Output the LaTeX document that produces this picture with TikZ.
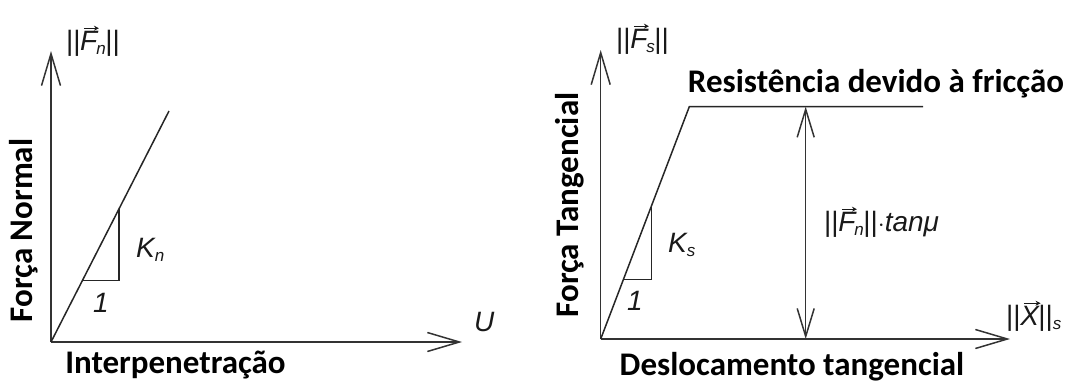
\documentclass[tikz,border=0pt]{standalone}
\usepackage{fontspec}
\setmainfont{Liberation Sans}
\newfontfamily\calib{Carlito}
\usetikzlibrary{arrows.meta,calc}
\newcommand\vecit[1]{\begingroup\setbox0=\hbox{\itshape #1}%
  \makebox[0pt][l]{\raisebox{\dimexpr\ht0+2.5pt\relax}{\kern3pt\tikz[x=1pt,y=1pt,baseline=0pt]\draw[line width=1.2pt,-{Stealth[length=5pt,width=5pt]}] (0,0) -- (\wd0-2pt,0);}}%
  \box0\endgroup}
\newcommand\subit[1]{\raisebox{-4.5pt}{\fontsize{17}{17}\selectfont\itshape #1}}
\begin{document}
\begin{tikzpicture}[x=1pt,y=-1pt,
  barb/.tip={Straight Barb[length=32pt,width=19pt,line width=1.5pt]},
  ax/.style={line width=1.5pt, draw=black!80, -barb},
  dbl/.style={line width=1.5pt, draw=black!80, {Straight Barb[length=28pt,width=17pt,line width=1.5pt]}-{Straight Barb[length=28pt,width=17pt,line width=1.5pt]}},
  curve/.style={line width=1.5pt, draw=black!85, line join=miter},
  tri/.style={line width=1.4pt, draw=black!85},
  lbl/.style={font=\calib\bfseries\fontsize{33}{33}\selectfont, inner sep=0pt, text=black},
  sym/.style={font=\fontsize{28}{28}\selectfont, inner sep=0pt, text=black!90}]
\useasboundingbox (0,0) rectangle (1075,383);

% ---------- left plot ----------
\coordinate (O1) at (51,342);
\coordinate (Y1) at (51,51);
\coordinate (X1) at (462,342);
\coordinate (L1) at (169,111);
\coordinate (A1) at ($(O1)!0.265!(L1)$);
\coordinate (B1) at ($(O1)!0.576!(L1)$);
\coordinate (C1) at (B1 |- A1);

\draw[ax] (O1) -- (Y1);
\draw[ax] (O1) -- (X1);
\draw[curve] (O1) -- (L1);
\draw[tri] (A1) -- (C1) -- (B1);

\node[sym, anchor=base west] (fn) at (66,50) {||\kern-0.5pt\vecit{F}\kern-1pt\subit{n}\kern-0.5pt||};
\node[sym, anchor=base west] (kn) at (136,257) {\itshape K\subit{n}};
\node[sym, anchor=base] (one1) at (101,312) {\itshape 1};
\node[sym, anchor=base west] (u) at (474,331) {\itshape U};
\node[lbl, anchor=base, rotate=90] (fnorm) at (32.5,230.5) {Força Normal};
\node[lbl, anchor=base] (interp) at (175.5,373) {Interpenetração};

% ---------- right plot ----------
\coordinate (O2) at (600.7,339);
\coordinate (Y2) at (600.7,50);
\coordinate (X2) at (1010,339);
\coordinate (P2) at (689.3,106.7);
\coordinate (E2) at (923,106.7);
\coordinate (A2) at ($(O2)!0.255!(P2)$);
\coordinate (B2) at ($(O2)!0.576!(P2)$);
\coordinate (C2) at (B2 |- A2);
\coordinate (D1) at (805.7,106.7);
\coordinate (D2) at (805.7,339);

\draw[ax] (O2) -- (Y2);
\draw[ax] (O2) -- (X2);
\draw[curve] (O2) -- (P2) -- (E2);
\draw[tri] (A2) -- (C2) -- (B2);
\draw[dbl] (D1) -- (D2);

\node[sym, anchor=base west] (fs) at (616,48) {||\kern-0.5pt\vecit{F}\kern-1pt\subit{s}\kern-0.5pt||};
\node[sym, anchor=base west] (ks) at (668,252) {\itshape K\subit{s}};
\node[sym, anchor=base] (one2) at (635,310) {\itshape 1};
\node[sym, anchor=base west] (fnt) at (824,231) {||\kern-0.5pt\vecit{F}\kern-1pt\subit{n}\kern-0.5pt||$\cdot$\itshape tanμ};
\node[sym, anchor=base west] (xs) at (1006,325) {||\kern-0.5pt\vecit{X}\kern-0.5pt||\subit{s}};
\node[lbl, anchor=base] (resist) at (876,92) {Resistência devido à fricção};
\node[lbl, anchor=base, rotate=90] (ftang) at (578.3,205) {Força Tangencial};
\node[lbl, anchor=base] (desloc) at (792,375) {Deslocamento tangencial};
\end{tikzpicture}
\end{document}
